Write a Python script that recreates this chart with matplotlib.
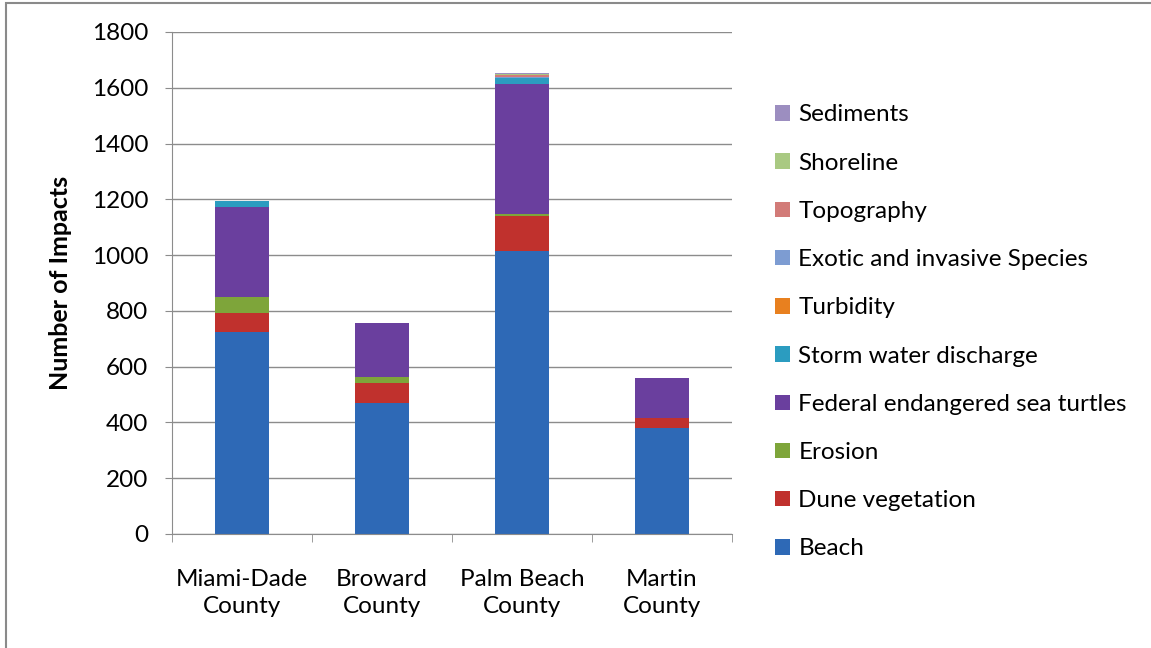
import matplotlib.pyplot as plt
import numpy as np
from matplotlib.patches import Rectangle

plt.rcParams["font.family"] = ["Lato", "DejaVu Sans"]

counties = ["Miami-Dade\nCounty", "Broward\nCounty", "Palm Beach\nCounty", "Martin\nCounty"]
categories = [
    "Beach", "Dune vegetation", "Erosion", "Federal endangered sea turtles",
    "Storm water discharge", "Turbidity", "Exotic and invasive Species",
    "Topography", "Shoreline", "Sediments",
]
beach = [725, 471, 1016, 379]
dune_vegetation = [66, 69, 124, 36]
erosion = [60, 24, 7, 0]
sea_turtles = [323, 191, 467, 143]
storm_water = [21, 0, 20, 0]
turbidity = [0, 0, 1, 0]
exotic_species = [0, 0, 5, 0]
topography = [0, 0, 5, 0]
shoreline = [0, 0, 6, 0]
sediments = [0, 0, 3, 0]
series = [beach, dune_vegetation, erosion, sea_turtles, storm_water,
          turbidity, exotic_species, topography, shoreline, sediments]
colors = ["#2e69b6", "#c0312d", "#7ea53a", "#6a3f9e", "#2b9cc0",
          "#e8801f", "#7d9cd2", "#d27b78", "#a9c982", "#9c8ec0"]

fig = plt.figure(figsize=(11.51, 6.48), dpi=100)
# outer chart frame: only top and left edges fall inside the image
fig.patches.append(Rectangle((6 / 1151, -0.1), 1.2, 1 - 3 / 648 + 0.1,
                             transform=fig.transFigure, fill=False,
                             edgecolor="#8a8a8a", lw=1.5))
ax = fig.add_axes([172 / 1151, 1 - 534 / 648, 560 / 1151, 502 / 648])

x = np.arange(len(counties))
bottom = np.zeros(len(counties))
handles = []
for vals, col, name in zip(series, colors, categories):
    h = ax.bar(x, vals, 0.39, bottom=bottom, color=col, edgecolor="none", label=name)
    handles.append(h)
    bottom += np.array(vals)

ax.set_xlim(-0.5, 3.5)
ax.set_ylim(0, 1800)
ax.set_yticks(np.arange(0, 1801, 200))
ax.yaxis.grid(True, color="#8c8c8c", lw=1.0)
ax.set_axisbelow(True)
for s in ["top", "right"]:
    ax.spines[s].set_visible(False)
for s in ["left", "bottom"]:
    ax.spines[s].set_color("#8c8c8c")
ax.tick_params(axis="y", length=5, color="#8c8c8c", labelsize=17.5, pad=12)
ax.set_xticks(x)
ax.set_xticklabels(counties, fontsize=17.5, linespacing=1.38)
ax.tick_params(axis="x", length=0, pad=25)
ax.set_xticks(np.arange(-0.5, 4, 1), minor=True)
ax.tick_params(axis="x", which="minor", length=6, color="#8c8c8c")
ax.set_ylabel("Number of Impacts", fontsize=18, fontweight="bold", labelpad=14)

ax.legend(handles[::-1], [h.get_label() for h in handles[::-1]],
          loc="upper left", bbox_to_anchor=(1.06, 0.875), frameon=False,
          fontsize=17.5, handlelength=0.6, handleheight=0.6, handletextpad=0.35,
          labelspacing=1.12, borderaxespad=0)

fig.savefig("out.png", dpi=100)
